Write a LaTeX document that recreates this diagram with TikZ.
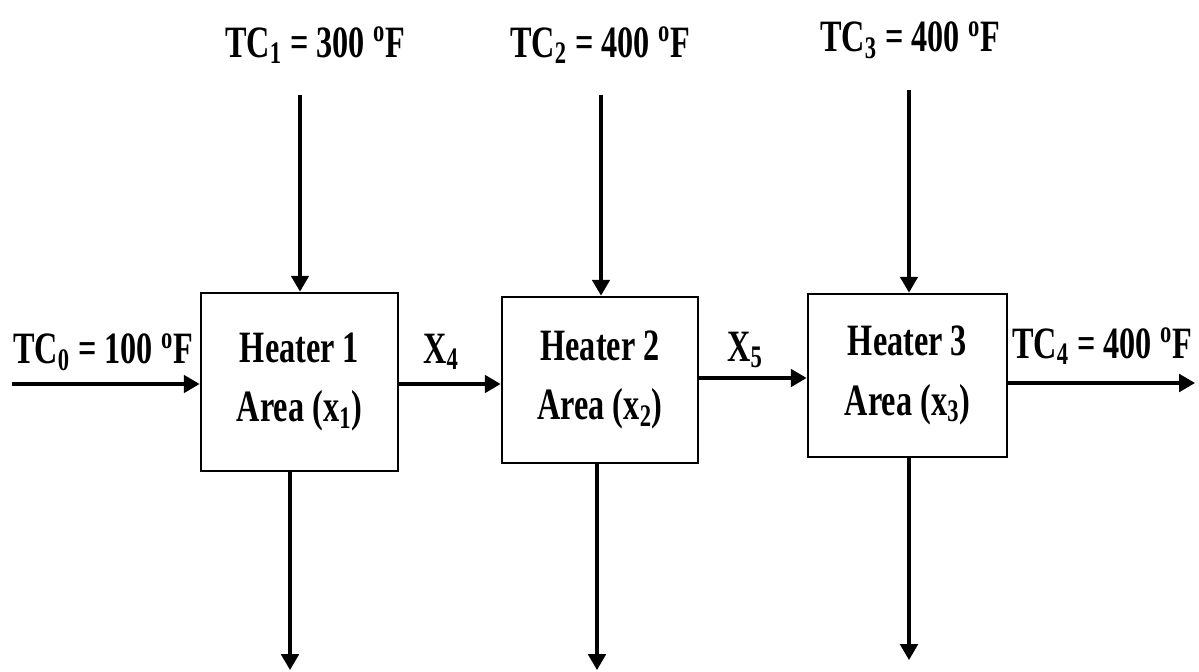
\documentclass[tikz,border=0pt]{standalone}
\usepackage{fontspec}
\setmainfont{Liberation Serif}[FakeStretch=0.72]
\usetikzlibrary{arrows.meta}
\tikzset{
  conn/.style={line width=1.8pt,-{Triangle[length=9pt,width=10pt]}},
  heater/.style={draw,line width=1.6pt,align=center,inner sep=0pt,
    font=\fontsize{25.5}{34}\selectfont\bfseries},
  lbl/.style={inner sep=0pt,font=\fontsize{25.5}{30}\selectfont\bfseries}
}
\newcommand{\degF}{\textsuperscript{o}F}
\begin{document}
\begin{tikzpicture}[x=0.02cm,y=-0.02cm]
\useasboundingbox (0,0) rectangle (1199,672);
% heaters
\node[heater,minimum width=3.94cm,minimum height=3.56cm] (h1) at (299.5,382) {Heater 1\\Area (x\textsubscript{1})};
\node[heater,minimum width=3.92cm,minimum height=3.32cm] (h2) at (600,380) {Heater 2\\Area (x\textsubscript{2})};
\node[heater,minimum width=3.98cm,minimum height=3.26cm] (h3) at (907.5,375.5) {Heater 3\\Area (x\textsubscript{3})};
% free ends
\coordinate (in) at (12,384);
\coordinate (out) at (1195,383);
\coordinate (t1) at (300,95);
\coordinate (t2) at (601,95);
\coordinate (t3) at (909,90);
\coordinate (b1) at (290,670);
\coordinate (b2) at (597,670);
\coordinate (b3) at (909,660);
% connectors
\draw[conn] (in) -- (in -| h1.west);
\draw[conn] (h1.east |- 0,384) -- (h2.west |- 0,384);
\draw[conn] (h2.east |- 0,378) -- (h3.west |- 0,378);
\draw[conn] (h3.east |- out) -- (out);
\draw[conn] (t1) -- (t1 |- h1.north);
\draw[conn] (t2) -- (t2 |- h2.north);
\draw[conn] (t3) -- (t3 |- h3.north);
\draw[conn] (b1 |- h1.south) -- (b1);
\draw[conn] (b2 |- h2.south) -- (b2);
\draw[conn] (b3 |- h3.south) -- (b3);
% labels
\node[lbl] (l0) at (103,352) {TC\textsubscript{0} = 100 \degF};
\node[lbl] (l1) at (315,45) {TC\textsubscript{1} = 300 \degF};
\node[lbl] (l2) at (600,45) {TC\textsubscript{2} = 400 \degF};
\node[lbl] (l3) at (910,40) {TC\textsubscript{3} = 400 \degF};
\node[lbl] (l4) at (1102,346) {TC\textsubscript{4} = 400 \degF};
\node[lbl] (x4) at (441,352) {X\textsubscript{4}};
\node[lbl] (x5) at (745,350) {X\textsubscript{5}};
\end{tikzpicture}
\end{document}
